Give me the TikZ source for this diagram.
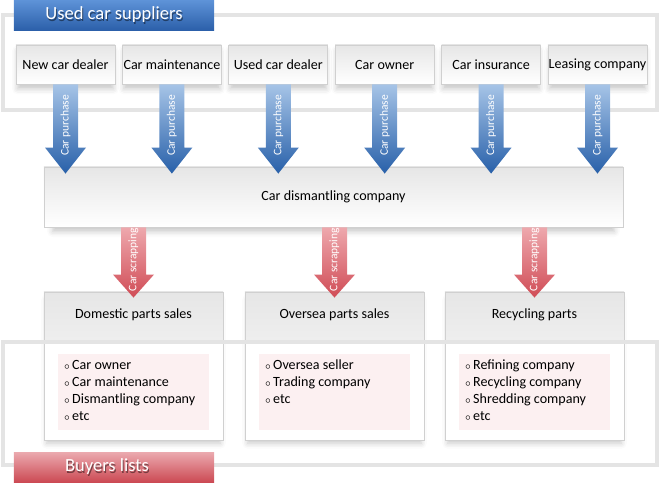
\documentclass[tikz,border=0pt]{standalone}
\usepackage{fontspec}
\setmainfont{Carlito}
\usetikzlibrary{positioning, calc, shadows.blur}

\definecolor{framegray}{HTML}{E4E4E4}
\definecolor{boxline}{HTML}{D0D0D0}
\definecolor{boxtop}{HTML}{E6E6E6}
\definecolor{bannerbluetop}{HTML}{5E93D8}
\definecolor{bannerbluebot}{HTML}{2C60AA}
\definecolor{arrowbluetop}{HTML}{A6C4E7}
\definecolor{arrowbluebot}{HTML}{2860A9}
\definecolor{bannerredtop}{HTML}{EBAAAF}
\definecolor{bannerredbot}{HTML}{CC4A54}
\definecolor{arrowredtop}{HTML}{EEA8AD}
\definecolor{arrowredbot}{HTML}{D04C56}
\definecolor{listpink}{HTML}{FCF0F1}

\newcommand{\bulletmark}{$\scriptstyle\circ$\,}

\begin{document}
\begin{tikzpicture}[x=0.025cm, y=-0.025cm,
    frame/.style={draw=framegray, line width=2.8pt},
    banner/.style={minimum width=5cm, minimum height=0.75cm, inner sep=0pt},
    bannertext/.style={font=\fontsize{13.2}{15}\selectfont, text=white, inner sep=0pt},
    textshade/.style={font=\fontsize{13.2}{15}\selectfont, text=black, opacity=0.45, inner sep=0pt},
    boxshadow/.style={blur shadow={shadow xshift=0pt, shadow yshift=-4pt, shadow opacity=22, shadow blur radius=4pt, shadow scale=0.97}},
    supbox/.style={draw=boxline, line width=0.6pt, top color=boxtop, bottom color=white, boxshadow,
        minimum width=2.475cm, minimum height=0.975cm, inner sep=0pt, font=\fontsize{10}{12}\selectfont},
    bigbox/.style={draw=boxline, line width=0.6pt, top color=boxtop, bottom color=white, boxshadow,
        minimum width=14.475cm, minimum height=1.5cm, inner sep=0pt, font=\fontsize{10}{12}\selectfont},
    partbox/.style={draw=boxline, line width=0.6pt, fill=white, boxshadow,
        minimum width=4.475cm, minimum height=3.7cm, inner sep=0pt,
        path picture={\shade[top color=boxtop, bottom color=white] (path picture bounding box.north west) rectangle ([yshift=-1.2cm]path picture bounding box.north east);}},
    parttitle/.style={font=\fontsize{10}{12}\selectfont, inner sep=0pt},
    listbox/.style={fill=listpink, minimum width=3.75cm, minimum height=1.9cm, inner sep=0pt},
    listtext/.style={font=\fontsize{10}{12.1}\selectfont, align=left, inner sep=0pt},
    arrowtext/.style={font=\fontsize{8.2}{10}\selectfont, text=white, rotate=90, inner sep=0pt}
]
    \useasboundingbox (0,0) rectangle (660,482);

    % suppliers frame and title
    \draw[frame] (3,15) rectangle (657,110);
    \node[banner, top color=bannerbluetop, bottom color=bannerbluebot] (topban) at (114,15) {};
    \node[textshade] (toptitles) at ([xshift=0.7pt, yshift=-1pt]topban.center) {Used car suppliers};
    \node[bannertext] (toptitle) at (topban.center) {Used car suppliers};

    % supplier boxes, evenly spaced
    \foreach \n/\name in {1/New car dealer, 2/Car maintenance, 3/Used car dealer,
                          4/Car owner, 5/Car insurance, 6/Leasing company}
        \node[supbox] (s\n) at ({65.5+106.4*(\n-1)},64.5) {\name};

    % dismantling company
    \node[bigbox] (dis) at (333.5,197) {Car dismantling company};

    % purchase arrows
    \foreach \n in {1,...,6}{
        \shade[top color=arrowbluetop, bottom color=arrowbluebot]
            ($(s\n.south)+(-12.5,0)$) -- ($(s\n.south |- dis.north)+(-12.5,-19)$)
            -- ($(s\n.south |- dis.north)+(-20.5,-19)$) -- ($(s\n.south |- dis.north)+(0,7)$)
            -- ($(s\n.south |- dis.north)+(20.5,-19)$) -- ($(s\n.south |- dis.north)+(12.5,-19)$)
            -- ($(s\n.south)+(12.5,0)$) -- cycle;
        \node[arrowtext] (p\n) at ($(s\n.south)!0.5!(s\n.south |- dis.north)$) {Car purchase};
    }

    % buyer boxes
    \node[partbox] (dom) at (133.5,366) {};
    \node[partbox] (ovs) at (334.5,366) {};
    \node[partbox] (rec) at (534.5,366) {};

    \node[parttitle, below=0.41cm of dom.north] (domt) {Domestic parts sales};
    \node[parttitle, below=0.41cm of ovs.north] (ovst) {Oversea parts sales};
    \node[parttitle, below=0.41cm of rec.north] (rect) {Recycling parts};

    % scrapping arrows
    \foreach \b/\k in {dom/1, ovs/2, rec/3}{
        \shade[top color=arrowredtop, bottom color=arrowredbot]
            ($(\b.north |- dis.south)+(-12.5,0)$) -- ($(\b.north)+(-12.5,-17)$)
            -- ($(\b.north)+(-20.5,-17)$) -- ($(\b.north)+(0,6)$)
            -- ($(\b.north)+(20.5,-17)$) -- ($(\b.north)+(12.5,-17)$)
            -- ($(\b.north |- dis.south)+(12.5,0)$) -- cycle;
        \node[arrowtext] (c\k) at ($(\b.north |- dis.south)!0.5!(\b.north)$) {Car scrapping};
    }

    % buyers frame
    \draw[frame] (3,342) rectangle (657,465);

    % buyer lists
    \node[listbox, below=1.55cm of dom.north] (doml) {};
    \node[listbox, below=1.55cm of ovs.north] (ovsl) {};
    \node[listbox, below=1.55cm of rec.north] (recl) {};

    \node[listtext, anchor=north west] (domi) at ([xshift=4pt, yshift=-4.3pt]doml.north west)
        {\bulletmark Car owner\\ \bulletmark Car maintenance\\ \bulletmark Dismantling company\\ \bulletmark etc};
    \node[listtext, anchor=north west] (ovsi) at ([xshift=4pt, yshift=-4.3pt]ovsl.north west)
        {\bulletmark Oversea seller\\ \bulletmark Trading company\\ \bulletmark etc};
    \node[listtext, anchor=north west] (reci) at ([xshift=4pt, yshift=-4.3pt]recl.north west)
        {\bulletmark Refining company\\ \bulletmark Recycling company\\ \bulletmark Shredding company\\ \bulletmark etc};

    % buyers title
    \node[banner, top color=bannerredtop, bottom color=bannerredbot] (botban) at (114,467) {};
    \node[textshade] (bottitles) at ([xshift=-4.3pt, yshift=-1pt]botban.center) {Buyers lists};
    \node[bannertext] (bottitle) at ([xshift=-5pt]botban.center) {Buyers lists};
\end{tikzpicture}
\end{document}
